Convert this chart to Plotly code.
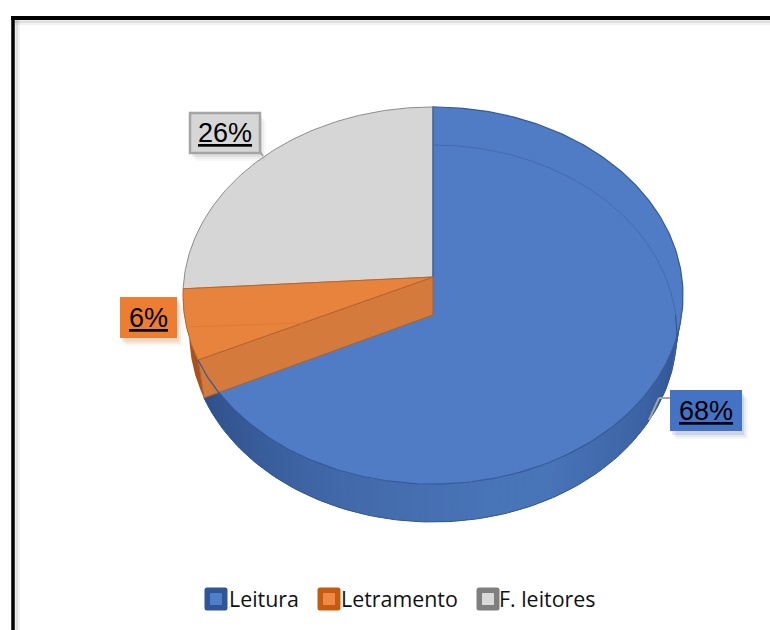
import numpy as np
import plotly.graph_objects as go

# Share of each category, in percent, clockwise from twelve o'clock
categories = ["Leitura", "Letramento", "F. leitores"]
shares = [68, 6, 26]
top_colors = ["#4f7cc5", "#e8833e", "#d6d6d6"]
label_fills = ["#4472c4", "#ed7d31", "#d6d6d6"]
swatch_edges = ["#2f5597", "#c55a11", "#7f7f7f"]
swatch_fills = ["#4f7fc9", "#ee8a45", "#d9d9d9"]

# Tilted-disc projection, in pixel units of the hidden axes
CX, CY = 433.0, 277.0
A, B, K = 248.8, 186.7, 0.098
DEPTH = 38.0
FLOOR_SCALE = 0.975


def rim(theta, floor=False):
    """Project disc-edge angles (radians, clockwise from top) to the page."""
    theta = np.asarray(theta, dtype=float)
    u, v = np.sin(theta), np.cos(theta)
    w = 1 + K * v
    if floor:
        return CX + FLOOR_SCALE * A * u / w, CY - B * v / w + DEPTH
    return CX + A * u / w, CY - B * v / w


def arc(start, end, n=160):
    return np.linspace(start, end, n)


def poly(xs, ys, fill, line="rgba(0,0,0,0)", width=0.0, name=""):
    return go.Scatter(x=list(xs), y=list(ys), mode="lines", fill="toself", fillcolor=fill,
                      line=dict(color=line, width=width), name=name,
                      hoverinfo="skip", showlegend=False)


def stroke(xs, ys, color, width=1.0):
    return go.Scatter(x=list(xs), y=list(ys), mode="lines", line=dict(color=color, width=width),
                      hoverinfo="skip", showlegend=False)


def mix(c1, c2, t):
    return "rgb(%d,%d,%d)" % tuple(round(a + (b - a) * t) for a, b in zip(c1, c2))


edges = np.cumsum([0] + shares) / 100 * 2 * np.pi
t_blue, t_orange = edges[1], edges[2]
fig = go.Figure()

# Grey slice
th = arc(edges[2], edges[3])
x, y = rim(th)
fig.add_trace(poly(np.r_[CX, x, CX], np.r_[CY, y, CY], top_colors[2], "#8c8c8c", 1.0, categories[2]))

# Outer wall of the orange slice
th = arc(t_blue, t_orange, 40)
x, y = rim(th)
xb, yb = rim(th, True)
fig.add_trace(poly(np.r_[x, xb[::-1]], np.r_[y, yb[::-1]], "#a9521c", name=categories[1]))

# Outer wall of the blue slice, shaded strip by strip; each strip runs under the next to hide seams
strip_edges = np.linspace(np.pi / 2, t_blue, 91)
dark, mid = (50, 84, 146), (72, 116, 184)
for a0, a1 in zip(strip_edges[:-1], strip_edges[1:]):
    span = np.array([a0, min(a1 + 0.02, t_blue)])
    x, y = rim(span)
    xb, yb = rim(span, True)
    pos = ((a0 + a1) / 2 - np.pi / 2) / (t_blue - np.pi / 2)
    if pos < 0.12:
        shade = mix((74, 112, 178), dark, pos / 0.12 * 0.75)
    elif pos < 0.5:
        shade = mix(dark, mid, min(1, (pos - 0.12) / 0.3) * 0.9 + 0.1)
    elif pos < 0.7:
        shade = mix(mid, (66, 106, 170), (pos - 0.5) / 0.2)
    else:
        shade = mix((66, 106, 170), (46, 78, 136), (pos - 0.7) / 0.3)
    fig.add_trace(poly(np.r_[x, xb[::-1]], np.r_[y, yb[::-1]], shade))

# Blue slice top
th = arc(0, t_blue, 260)
x, y = rim(th)
fig.add_trace(poly(np.r_[CX, x, CX], np.r_[CY, y, CY], top_colors[0], "#35599a", 1.2, categories[0]))

# Far inner edge of the wall, showing faintly through the blue top
th = arc(0, np.pi * 0.53)
x, y = rim(th, True)
fig.add_trace(stroke(x, y, "#4569a8", 0.9))

# Front silhouette of the wall
th = arc(np.pi / 2, t_blue)
x, y = rim(th, True)
fig.add_trace(stroke(x, y, "#34578f", 1.0))

# Cut face of the orange slice, lying over the blue top
x0, y0 = rim([t_blue])
xf, yf = rim([t_blue], True)
fig.add_trace(poly([CX, CX, xf[0], x0[0], CX], [CY, CY + DEPTH, yf[0], y0[0], CY],
                   "#d47a3c", "#a9612f", 1.0))

# Orange slice top
th = arc(t_blue, t_orange, 60)
x, y = rim(th)
fig.add_trace(poly(np.r_[CX, x, CX], np.r_[CY, y, CY], top_colors[1], "#b9652c", 1.0, categories[1]))

# Lower edge of the far wall, faint through the orange top
x1, y1 = rim([t_orange], True)
fig.add_trace(stroke([x1[0], CX - 130], [y1[0], CY + DEPTH + 8], "#dc7a36", 1.0))

# Blue rim passing over the orange cut face
th = arc(t_blue, t_blue * 0.89, 30)
x, y = rim(th)
fig.add_trace(stroke(x, y, "#35599a", 1.2))

legend_x = [216, 329, 488]
legend_text_x = [229, 341, 499]
legend_y = 599
shapes = []


def box(x0, y0, x1, y1, fill, line=None, lw=0, opacity=1.0):
    shapes.append(dict(type="rect", xref="x", yref="y", x0=x0, y0=y0, x1=x1, y1=y1,
                       fillcolor=fill, opacity=opacity, layer="above",
                       line=dict(color=line or "rgba(0,0,0,0)", width=lw)))


def rounded(cx, cy, half, r, fill):
    l, h, t, b = cx - half, cx + half, cy - half, cy + half
    path = (f"M{l + r},{t} L{h - r},{t} Q{h},{t} {h},{t + r} L{h},{b - r} Q{h},{b} {h - r},{b} "
            f"L{l + r},{b} Q{l},{b} {l},{b - r} L{l},{t + r} Q{l},{t} {l + r},{t} Z")
    shapes.append(dict(type="path", xref="x", yref="y", path=path, fillcolor=fill, layer="above",
                       line=dict(width=0)))


def segment(x0, y0, x1, y1, color, w):
    shapes.append(dict(type="line", xref="x", yref="y", x0=x0, y0=y0, x1=x1, y1=y1,
                       layer="above", line=dict(color=color, width=w)))


# Legend swatches along the bottom row
for cx, fill, edge in zip(legend_x, swatch_fills, swatch_edges):
    rounded(cx, legend_y, 11.5, 2.5, edge)
    rounded(cx, legend_y, 6, 0.5, fill)

# Chart frame with its soft shadow
for grow, alpha in [(5, 0.05), (3, 0.08)]:
    segment(13, 18 + grow, 770, 18 + grow, "rgba(0,0,0,%.2f)" % alpha, 4)
    segment(13 + grow, 18, 13 + grow, 630, "rgba(0,0,0,%.2f)" % alpha, 4)
segment(11, 18, 770, 18, "#000000", 4)
segment(13, 16, 13, 630, "#000000", 3.5)

# Leader lines
segment(259, 150, 263, 156, "#a5a5a5", 1.5)
segment(670, 398, 659, 398, "#a5a5a5", 2)
segment(659, 398, 649, 420, "#a5a5a5", 2)

# Percentage label boxes
label_boxes = {0: (670, 390, 742, 431), 1: (120, 297, 177, 338), 2: (190, 113, 260, 153)}
annotations = []
for i, (x0, y0, x1, y1) in label_boxes.items():
    for off, alpha in [(7, 0.05), (5, 0.08), (3, 0.12)]:
        box(x0 + off - 1, y0 + off + 1, x1 + off - 1, y1 + off + 1, swatch_edges[i], opacity=alpha)
    if i == 2:
        box(x0, y0, x1, y1, label_fills[i], "#a5a5a5", 2.5)
    else:
        box(x0, y0, x1, y1, label_fills[i])
    annotations.append(dict(x=(x0 + x1) / 2, y=(y0 + y1) / 2, xref="x", yref="y", showarrow=False,
                            text="<u>%d%%</u>" % shares[i], align="center",
                            font=dict(family="Liberation Sans", size=27, color="#000000")))

for name, tx in zip(categories, legend_text_x):
    annotations.append(dict(x=tx, y=legend_y - 1, xref="x", yref="y", xanchor="left", showarrow=False,
                            text=name, xshift=-2,
                            font=dict(family="Open Sans", size=21.4, color="#111111")))

fig.update_layout(
    width=770, height=630, margin=dict(l=0, r=0, t=0, b=0),
    paper_bgcolor="#ffffff", plot_bgcolor="#ffffff", showlegend=False,
    xaxis=dict(range=[0, 770], visible=False, fixedrange=True),
    yaxis=dict(range=[630, 0], visible=False, fixedrange=True),
    shapes=shapes, annotations=annotations,
)

fig.write_html("out.html", config={"displayModeBar": False})
